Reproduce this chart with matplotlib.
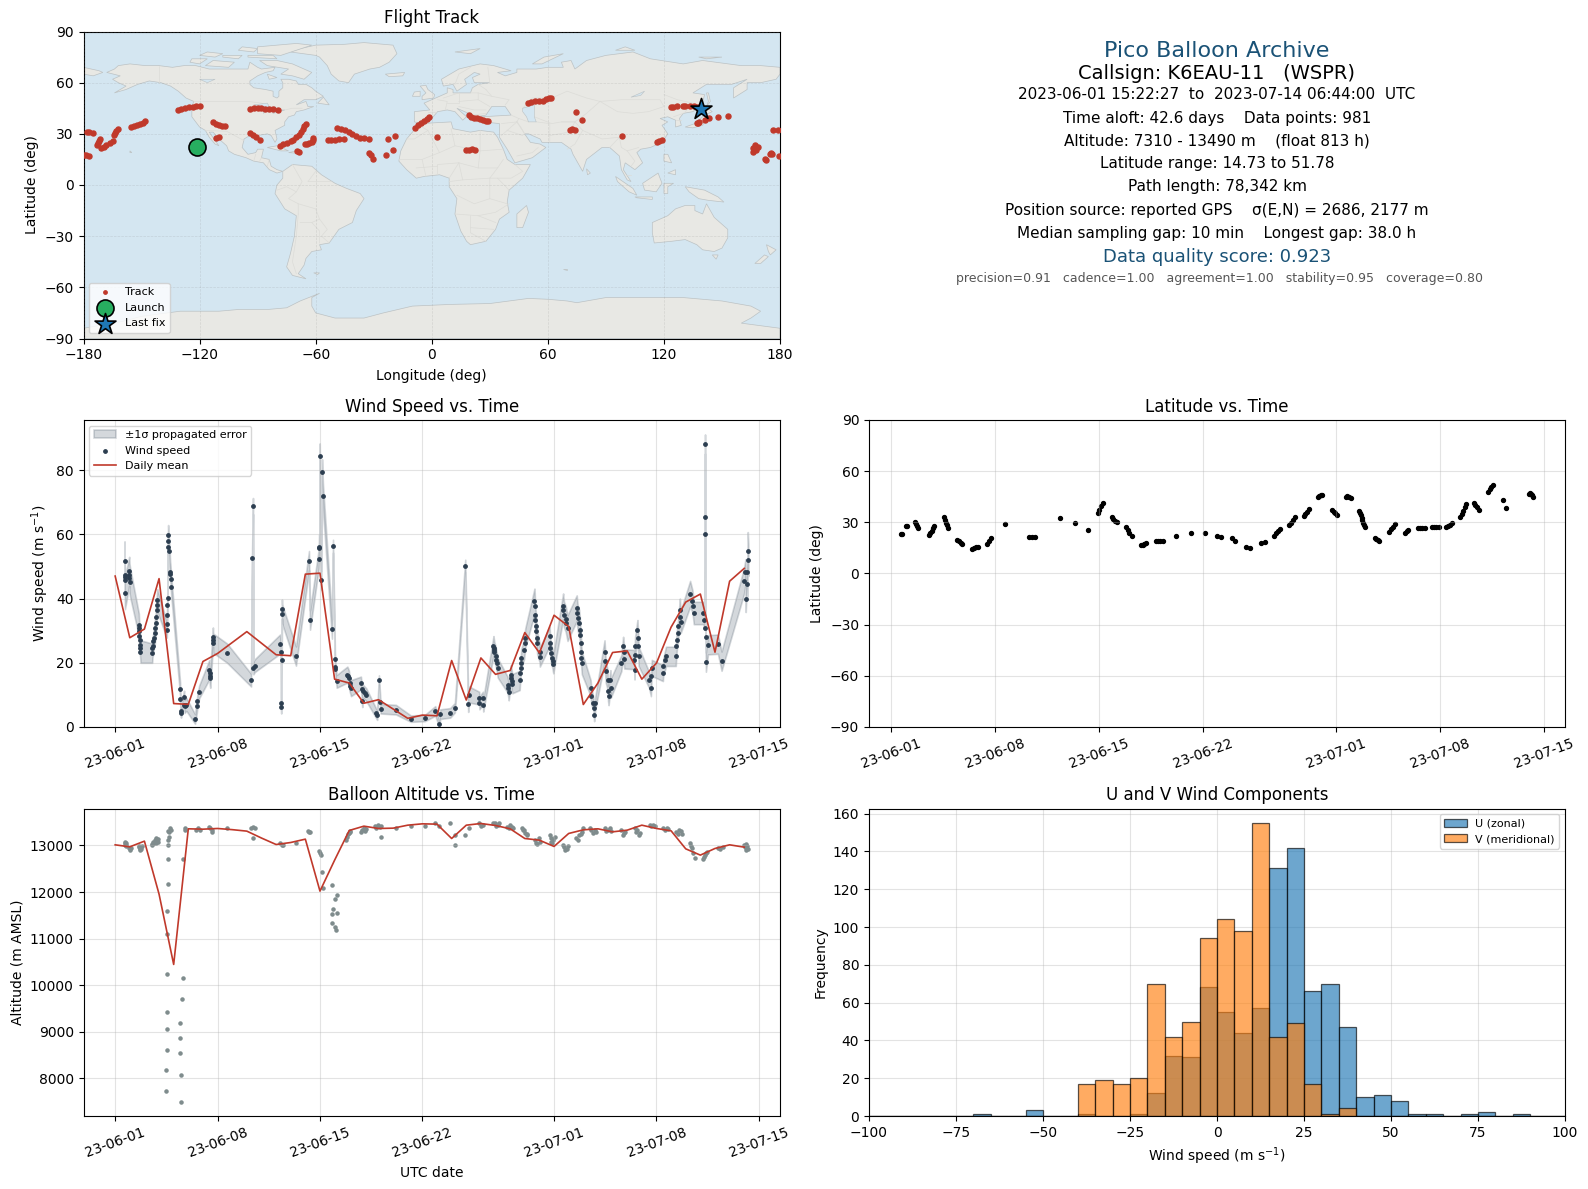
import datetime as dt

import numpy as np
import matplotlib
matplotlib.use("Agg")
import matplotlib.pyplot as plt
import matplotlib.dates as mdates
from matplotlib.patches import Polygon

# ===============================
# FLIGHT SUMMARY TEXT
# ===============================
HEADER = "Pico Balloon Archive"
CALLSIGN = "Callsign: K6EAU-11   (WSPR)"
SUMMARY_LINES = [
    "2023-06-01 15:22:27  to  2023-07-14 06:44:00  UTC",
    "Time aloft: 42.6 days    Data points: 981",
    "Altitude: 7310 - 13490 m    (float 813 h)",
    "Latitude range: 14.73 to 51.78",
    "Path length: 78,342 km",
    "Position source: reported GPS    σ(E,N) = 2686, 2177 m",
    "Median sampling gap: 10 min    Longest gap: 38.0 h",
]
SCORE = "Data quality score: 0.923"
SCORE_PARTS = "precision=0.91   cadence=1.00   agreement=1.00   stability=0.95   coverage=0.80"

# ===============================
# MAP OUTLINES (lon, lat)
# ===============================
LAND = [
    # North America
    [(-168,66),(-164,68),(-162,70),(-156,71),(-148,70),(-141,70),(-134,69),(-128,70),(-122,70),(-115,68),(-108,68),(-100,68),(-95,68),(-94,72),(-90,69),(-88,68),(-81,69),(-82,67),(-86,66),(-90,64),(-94,61),(-94,59),(-92,57),(-86,56),(-82,55),(-82,52),(-80,51),(-79,52),(-79,55),(-77,57),(-77,60),(-78,62),(-74,62),(-70,61),(-69,59),(-65,59),(-62,57),(-60,55),(-56,52),(-60,50),(-66,50),(-70,47),(-65,49),(-64,46),(-61,46),(-66,44),(-70,43),(-71,41),(-74,40),(-76,37),(-76,35),(-81,32),(-80,27),(-81,25),(-83,29),(-85,30),(-90,29),(-94,29),(-97,27),(-98,22),(-95,18),(-91,19),(-90,21),(-87,21),(-88,16),(-84,15),(-83,11),(-80,9),(-77,8),(-80,7),(-84,9),(-87,13),(-92,14),(-96,16),(-102,18),(-105,20),(-106,23),(-110,27),(-113,31),(-115,31),(-112,26),(-110,23),(-112,24),(-115,28),(-117,32),(-120,34),(-122,37),(-124,40),(-124,46),(-123,49),(-127,51),(-131,55),(-135,58),(-140,60),(-146,61),(-152,59),(-158,56),(-164,54),(-158,58),(-162,60),(-165,62),(-161,64)],
    # Greenland
    [(-73,78),(-68,80),(-60,82),(-45,82.5),(-35,83.5),(-20,82),(-18,77),(-22,72),(-27,69),(-32,68),(-40,65),(-43,60),(-48,61),(-52,65),(-54,70),(-58,75),(-60,76)],
    # Canadian islands
    [(-80,73),(-72,71),(-68,69),(-62,66),(-66,62),(-72,64),(-78,65),(-74,68),(-85,70),(-89,73)],
    [(-117,70),(-105,69),(-102,72),(-113,73)],
    [(-125,72),(-120,71),(-116,74),(-124,74)],
    [(-90,77),(-78,76),(-62,82),(-70,83),(-90,81)],
    [(-95,75),(-80,74),(-82,76),(-95,76)],
    [(-108,75),(-100,74),(-98,76),(-108,76)],
    [(-120,76),(-112,75),(-108,77),(-116,78)],
    [(-100,79),(-92,78),(-90,80),(-98,81)],
    [(-85,65),(-80,63),(-84,62)],
    [(-59,48),(-53,47),(-56,51.5)],
    # Caribbean
    [(-85,22),(-80,23),(-74,20),(-78,20)],
    [(-74,19),(-68,18.5),(-70,20)],
    # South America
    [(-77,8),(-72,12),(-62,11),(-57,6),(-50,1),(-44,-2),(-37,-5),(-35,-8),(-39,-15),(-41,-22),(-48,-26),(-53,-34),(-58,-35),(-57,-38),(-62,-39),(-65,-43),(-66,-47),(-69,-52),(-65,-55),(-72,-53),(-75,-48),(-73,-40),(-71,-30),(-70,-18),(-76,-14),(-81,-5),(-80,0),(-77,4)],
    # Africa
    [(-6,36),(10,37),(11,33),(20,31),(25,32),(32,31),(34,28),(37,21),(39,15),(43,12),(51,12),(47,4),(40,-3),(39,-10),(40,-16),(35,-20),(33,-26),(28,-33),(20,-35),(18,-33),(15,-27),(12,-17),(13,-8),(9,-1),(9,4),(4,6),(-4,5),(-8,4),(-13,9),(-17,14),(-16,20),(-13,27),(-10,31)],
    # Eurasia
    [(-9,37),(-9,43),(-1,44),(-4,48),(2,51),(8,54),(8,57),(11,56),(11,54),(20,54),(21,57),(24,59),(30,60),(22,60),(21,63),(25,65),(22,66),(17,62),(18,59),(13,55),(11,59),(6,58),(5,62),(14,68),(25,71),(32,70),(41,67),(34,66),(38,64),(44,66),(44,68),(54,68),(60,69),(68,69),(67,72),(72,73),(74,68),(80,73),(90,76),(104,78),(113,74),(130,71),(140,73),(160,70),(170,70),(180,69),(180,65),(178,62),(170,60),(163,60),(163,56),(156,51),(156,57),(163,62),(155,59),(142,59),(135,54),(141,53),(140,48),(135,43),(130,42),(128,39),(129,35),(126,34),(126,38),(122,40),(118,39),(122,37),(119,35),(122,30),(119,25),(113,22),(108,21),(106,19),(109,13),(105,9),(100,13),(99,9),(103,2),(101,3),(98,9),(97,17),(92,22),(88,22),(80,15),(78,8),(73,18),(72,21),(67,25),(57,25),(56,27),(50,30),(48,30),(51,25),(56,24),(59,22),(52,16),(43,13),(39,21),(35,28),(35,36),(27,37),(26,40),(41,41),(38,46),(31,46),(28,41),(23,40),(23,37),(19,42),(13,45),(18,40),(16,38),(12,43),(8,44),(3,43),(0,39),(-5,36)],
    # Chukotka past the date line
    [(-180,69),(-172,67),(-170,66),(-175,64),(-180,65)],
    # Antarctica
    [(-180,-84),(-160,-80),(-150,-77),(-130,-74),(-110,-74),(-100,-73),(-85,-73),(-75,-72),(-68,-68),(-58,-63.5),(-62,-66),(-62,-71),(-60,-75),(-50,-78),(-35,-78),(-25,-75),(-10,-71),(10,-70),(30,-69.5),(50,-66.5),(60,-67),(70,-68),(75,-69),(90,-66),(110,-66),(130,-66),(150,-68),(165,-71),(170,-74),(165,-78),(160,-81),(180,-84),(180,-90),(-180,-90)],
    # Oceania and Asia islands
    [(114,-22),(122,-18),(126,-14),(131,-12),(136,-12),(136,-15),(140,-17),(142,-11),(146,-19),(153,-26),(153,-31),(150,-37),(146,-39),(140,-38),(137,-35),(131,-32),(124,-33),(115,-34),(114,-28)],
    [(145,-41),(148,-41),(147,-43.5)],
    [(173,-35),(178,-38),(175,-41),(174,-39)],
    [(172,-41),(174,-42),(170,-46),(167,-46)],
    [(131,-1),(141,-3),(148,-7),(151,-10),(143,-9),(138,-8),(133,-4)],
    [(109,1),(117,7),(119,1),(116,-4),(110,-3)],
    [(95,5),(104,-2),(106,-6),(102,-4),(96,2)],
    [(105,-7),(114,-7),(114,-8.5),(106,-7.5)],
    [(120,1),(125,1),(122,-1),(122,-5),(120,-5)],
    [(120,18),(122,18),(124,13),(120,14)],
    [(122,7),(126,9),(126,6)],
    [(131,34),(136,36),(141,41),(142,39),(140,35),(135,33.5)],
    [(140,42),(142,45.5),(145,43),(143,42)],
    [(142,46),(143,49),(142,54),(143,54),(144,49)],
    [(80,9.5),(82,7),(80.5,6)],
    [(49,-12),(50,-16),(47,-25),(44,-25),(44,-17)],
    [(-5,50),(1,51),(1.5,53),(-2,56),(-3,58.5),(-6,58),(-3,54),(-5,52)],
    [(-10,52),(-6,52),(-6,55),(-9,54.5)],
    [(-24,65),(-14,66),(-15,64),(-22,63.5)],
    [(12,78),(25,80),(20,77)],
    [(52,71),(57,71),(68,77),(58,75)],
    [(95,79),(105,79),(100,81)],
    [(138,75),(150,75),(142,74)],
    [(68,-49),(70,-49),(70,-50)],
    [(-156,20),(-155,19),(-156,19)],
    [(-61,-51.5),(-58,-51.5),(-59,-52.5)],
]
LAKES = [
    [(47,45),(53,47),(53,40),(54,37),(50,37),(49,40),(47,43)],
    [(-92,47),(-85,48),(-84,46),(-87,45),(-87,42),(-85,44),(-81,46),(-80,44),(-76,44),(-82,42),(-83,45),(-88,46)],
    [(-120,62),(-112,62),(-116,60)],
    [(103,51.5),(110,55),(108,52.5)],
]
BORDERS = [
    [(-141,70),(-141,60)], [(-123,49),(-95,49),(-88,48),(-83,45),(-82,42),(-76,44),(-72,45),(-67,45)],
    [(-117,32),(-106,31.5),(-97,26)], [(-92,14),(-91,18)], [(-88,16),(-89,14)], [(-84,15),(-85,11)],
    [(-72,12),(-67,2),(-70,-4),(-74,-8),(-69,-11),(-69,-17)], [(-60,8),(-64,2),(-57,2),(-52,2)],
    [(-80,-3),(-75,-1),(-70,-4)], [(-69,-11),(-60,-14),(-58,-20),(-54,-26),(-57,-30),(-53,-34)],
    [(-69,-17),(-70,-30),(-72,-45),(-70,-52)], [(-62,-22),(-58,-20)], [(-68,-22),(-62,-22),(-58,-27),(-58,-34)],
    [(-8,36),(-2,32),(-9,27),(-13,27)], [(-2,32),(4,19),(12,23),(10,33)], [(-17,15),(-5,15),(4,19)],
    [(12,23),(25,20),(25,32)], [(25,20),(37,21)], [(25,20),(24,10),(34,10),(37,15)],
    [(14,13),(24,10)], [(3,6),(3,12),(14,13),(9,4)], [(-5,15),(-3,5)], [(-8,10),(3,11)],
    [(14,13),(16,3),(9,2)], [(16,3),(30,4),(34,10)], [(30,4),(41,4),(47,8),(43,12)],
    [(34,4),(40,-3)], [(30,4),(30,-8),(39,-11)], [(13,-6),(22,-11),(30,-8)], [(12,-17),(24,-18),(33,-16),(40,-11)],
    [(20,-18),(20,-28),(28,-33)], [(20,-25),(32,-26)], [(24,-18),(33,-22)],
    [(2,43),(-2,43)], [(3,50),(8,49),(7,44)], [(6,51),(14,54)], [(14,54),(14,48),(8,48)], [(14,49),(24,50),(24,54),(20,54)],
    [(24,50),(30,46)], [(24,54),(31,52),(40,50),(38,47)], [(14,46),(22,44),(28,44)], [(21,41),(28,42)],
    [(28,56),(31,52)], [(24,59),(28,56)], [(30,60),(29,69)], [(20,69),(14,65),(12,59)],
    [(41,41),(45,39),(44,37),(36,36)], [(44,37),(48,30)], [(39,32),(47,29)], [(45,39),(50,37)],
    [(44,37),(46,34),(48,30)], [(36,29),(39,32),(44,37)], [(44,17),(52,19),(55,22)],
    [(47,45),(52,51),(62,51),(70,55),(80,51),(87,49)], [(53,40),(62,36),(67,37),(74,37),(80,42),(87,49)],
    [(54,37),(61,36),(61,25)], [(67,37),(74,37),(71,31),(61,29)], [(74,37),(78,32),(74,24),(70,21)],
    [(78,32),(88,27),(97,28),(92,22)], [(97,28),(98,22),(101,20),(107,22)], [(101,20),(105,14),(103,11)],
    [(87,49),(98,50),(107,50),(118,50),(120,46),(112,43),(104,42),(96,43),(87,49)], [(120,53),(127,50),(135,48),(131,43)],
    [(125,40),(130,42)], [(126,38),(129,38)], [(103,6),(101,6)],
]

# ===============================
# TRACK (lon, lat)
# ===============================
TRACK_LON = [
    -179.7,-178.5,-177.0, -178.3,-177.0,-175.2, -173.1,-172.6,-172.2,-171.7, -171.0,-169.5,-168.2,-166.5,-164.9,
    -164.0,-163.6,-163.0,-162.4, -155.6,-154.0,-152.5,-151.0,-149.5,-148.2,
    -131.4,-129.5,-127.5,-125.5,-123.5,-122.0,-120.0, -113.0,-111.5,-110.0,-108.5,-106.7, -111.5,-110.2,
    -94.1,-92.0,-90.0,-88.0,-86.0,-84.0,-82.0,-79.7, -94.0,-92.5,-91.0,-89.0,
    -78.6,-77.0,-75.0,-73.0,-71.5,-70.0,-68.5,-67.5,-66.5,-65.8,-65.0, -69.9,-68.8,
    -65.7,-64.5,-63.2,-62.0,-61.4,-61.6, -53.6,-52.0,-50.0,-48.0,-45.5,
    -49.0,-47.0,-45.0,-43.0,-41.0,-39.0,-37.0,-35.0,-32.6, -32.5,-31.5,-30.3, -23.7,-20.2, -22.8,-19.0,
    -8.7,-7.0,-5.5,-4.0,-2.5,-1.2, 2.6, 19.5,20.5,22.0,23.5,25.0,26.5,28.0,29.0, 17.8,19.5,21.0,22.6,
    49.7,51.5,53.5,55.5,57.5,59.0,60.5,61.7, 74.5,77.6, 71.2,72.5,73.8, 98.1, 116.4,117.7,119.1,
    123.8,124.8,126.7, 129.8,131.0,133.5,135.5,137.0,138.4, 137.0,137.5,138.0, 141.2,143.3,147.9,153.1,
    176.4,179.0, 166.3,166.0,167.2,168.6,167.8, 174.7,175.4,176.0, 172.4,172.6, 179.5,
]
TRACK_LAT = [
    17.8,17.5,17.0, 30.9,30.8,30.5, 23.2,24.5,26.0,27.2, 21.8,22.3,23.2,24.5,25.7,
    29.1,30.5,31.8,33.0, 34.0,34.6,35.3,35.9,36.6,37.3,
    44.2,44.7,45.2,45.6,45.9,46.1,46.1, 37.2,36.0,35.2,34.6,34.4, 27.8,28.2,
    44.8,45.0,45.0,45.0,44.8,44.6,44.4,44.2, 30.2,29.4,28.2,26.6,
    23.0,23.8,24.6,25.6,26.6,28.0,29.5,31.2,33.0,34.5,36.0, 20.0,19.4,
    23.9,24.2,24.6,25.5,27.8,26.5, 26.2,26.4,26.3,26.8,27.0,
    33.6,33.0,32.0,31.0,30.0,28.9,27.8,27.3,26.9, 19.0,17.4,15.0, 17.4,20.5, 27.2,28.6,
    33.6,35.0,36.2,37.5,38.8,39.8, 28.3, 40.8,40.0,39.4,39.0,38.6,38.2,37.8,37.5, 20.7,20.8,20.9,20.7,
    48.0,48.6,49.0,49.2,49.5,50.4,51.1,51.1, 43.0,38.2, 32.4,32.6,32.4, 28.9, 25.2,25.7,26.1,
    45.9,46.0,46.4, 46.4,46.4,46.4,46.2,46.0,46.0, 36.3,36.6,36.9, 38.2,39.4,40.0,40.6,
    32.4,32.0, 19.3,21.8,23.2,22.0,20.4, 18.3,18.6,18.3, 15.2,14.7, 17.1,
]
LAUNCH = (-121.4, 22.4)
LAST_FIX = (139.0, 44.7)

# ===============================
# WIND SPEED (days after 2023-06-01)
# ===============================
WIND_DAY = [
    0.64,0.64,0.65,0.66,0.67, 0.96,0.97,0.98,1.02,
    1.62,1.63,1.64,1.66,1.68,1.70,1.72,1.73,
    2.53,2.55,2.58,2.62,2.65,2.71,2.74,2.78,2.80,2.84,2.86,2.88,
    3.53,3.54,3.55,3.57,3.58, 3.60,3.61,3.62,3.69, 3.76,3.78,3.80,3.84,
    4.44,4.45,4.48,4.50, 4.71,4.73,4.75,4.87, 5.46, 5.58,5.62,5.74,
    6.43,6.46,6.48,6.50, 6.68,6.69,6.70, 7.65,
    9.29,9.36,9.42,9.45,9.54, 11.27,11.33,11.34,11.35,11.38,11.40,11.41, 12.36,
    13.25,13.32, 13.91,13.94,13.96,13.98,14.09,14.14,14.20,
    14.82,14.89, 15.02,15.04,15.06,15.14,
    15.87,15.92,15.97,16.02,16.07,16.12, 16.80,16.84,16.89,16.95,17.05,17.16,
    17.82,17.91,18.03,18.12,18.14, 19.19, 20.21, 21.17,
    21.88,22.15,22.22,22.90,23.22,23.93,24.13,24.20,
    24.88,24.90,25.14,25.16, 25.86,25.88,25.90,25.92, 26.00,26.05,26.10,26.15,
    26.82,26.86,26.90, 27.05,27.09,27.12,27.15,
    27.65,27.68,27.71,27.74,27.77, 27.95,28.00,28.03,
    28.66,28.68,28.70,28.72, 28.76,28.79,28.82,28.85, 29.01,29.03,
    29.70,29.72,29.75,29.78, 29.88,29.92,29.95,
    30.62,30.64,30.68, 30.80,30.85,30.92,
    31.55,31.58,31.62, 31.72,31.76,31.78, 31.82,31.85,31.87,31.90,
    32.50,32.55, 32.68,32.71,32.74,32.82,
    33.45,33.49,33.53, 33.66,33.69,33.73, 33.85,33.88,
    34.60,34.72,34.76,34.80, 35.48,35.50,35.52,35.54, 35.70,35.73,35.76,35.78,
    36.49,36.62,36.65,36.68, 37.44,37.47, 37.60,37.65,
    38.32,38.36,38.40, 38.46,38.50, 38.60,38.63,38.66,
    39.30,39.46,39.50,39.55, 40.20,40.27,40.30,40.31,40.32,40.35,40.36,40.38,40.52,
    41.20,41.45, 42.98,43.08,43.10,43.18,43.20,43.24,43.28,
]
WIND_SPEED = [
    51.7,47.2,46.6,45.9,41.7, 48.5,47.4,46.4,45.1,
    31.8,30.8,29.8,28.2,27.2,25.6,24.6,23.5,
    23.0,24.6,25.3,26.7,27.7,29.3,30.8,32.4,34.4,36.5,38.1,39.4,
    30.3,32.2,35.0,38.1,40.1, 56.2,57.8,59.9,54.8, 48.4,47.7,46.1,43.6,
    11.8,8.7,4.9,4.4, 9.3,7.0,6.4,7.0, 2.5, 6.4,8.0,10.9,
    17.8,16.8,15.8,15.2, 28.0,27.2,26.1, 23.0,
    14.6,52.6,68.8,18.4,19.1, 25.8,23.2,7.5,6.2,21.0,36.7,35.2, 22.1,
    51.8,33.3, 52.3,56.0,55.7,84.3,45.7,79.4,71.9,
    30.5,56.3, 21.2,18.7,18.0,14.2,
    16.3,15.8,15.2,13.7,12.9,12.1, 13.7,11.8,8.2,11.1,10.6,10.1,
    4.4,3.7,14.6,7.7,5.7, 5.4, 2.6, 2.8,
    5.0,1.0,4.0,4.4,6.0,50.1,7.2,10.1,
    9.0,7.5,9.0,6.8, 25.3,24.6,24.1,23.5, 22.2,21.0,19.9,18.4,
    13.2,12.1,10.8, 16.3,15.2,14.2,13.5,
    14.5,16.8,18.4,19.9,21.5, 24.1,26.1,27.7,
    39.1,37.6,35.0,33.4, 31.3,29.8,27.7,26.1, 23.2,21.8,
    28.2,26.1,24.6,23.0, 21.5,20.4,19.7,
    37.6,36.5,35.0, 33.6,32.4,30.8,
    37.0,35.5,33.9, 32.4,30.3,28.7, 26.1,23.5,21.5,19.9,
    12.1,9.5, 7.5,5.9,3.8,7.5,
    23.5,20.4,17.3, 14.7,11.1,9.8, 14.7,12.1,
    19.9,25.1,23.5,21.2, 21.0,17.8,22.5,25.1, 30.3,27.7,25.1,22.0,
    14.7,12.1,15.8,18.4, 16.8,18.9, 21.0,22.0,
    22.0,25.1,27.2, 29.3,31.3, 36.5,34.4,32.8,
    41.5,39.1,37.6,35.5, 35.5,33.3,65.4,60.1,88.1,30.8,28.0,20.2,25.6,
    25.8,20.5, 45.4,48.2,39.8,48.2,44.5,54.7,52.1,
]
WIND_SIGMA = [
    6.0,6.0,5.0,5.0,5.0, 4.5,4.5,4.5,4.5,
    3.5,3.5,3.5,3.5,3.5,3.5,3.5,3.5,
    3.0,3.0,3.0,3.0,3.0,3.5,3.5,3.5,3.5,3.5,3.5,3.5,
    2.5,2.5,2.5,2.5,2.5, 3.0,3.0,3.0,3.0, 3.0,3.0,3.0,3.0,
    2.0,2.0,1.5,1.5, 2.0,2.0,2.0,2.0, 1.5, 2.0,2.0,2.0,
    3.0,3.0,3.0,3.0, 3.0,3.0,3.0, 3.0,
    2.0,2.5,2.5,2.0,2.0, 3.0,2.0,2.0,2.0,2.0,3.0,3.0, 3.0,
    3.0,3.0, 3.0,4.0,4.0,4.0,3.0,4.0,4.0,
    3.0,2.0, 2.5,2.0,2.0,2.0,
    2.5,2.5,2.5,2.5,2.5,2.5, 2.0,2.0,2.0,2.0,2.0,2.0,
    1.5,1.5,1.5,1.5,1.5, 1.5, 1.0, 1.0,
    1.5,1.0,1.5,1.5,1.5,2.0,2.5,2.5,
    2.0,2.0,2.0,2.0, 3.0,3.0,3.0,3.0, 3.0,3.0,3.0,3.0,
    2.5,2.5,2.5, 3.0,3.0,3.0,3.0,
    3.0,3.0,3.0,3.0,3.0, 3.0,3.0,3.0,
    4.0,4.0,4.0,4.0, 4.0,3.5,3.5,3.5, 3.0,3.0,
    3.0,3.0,3.0,3.0, 3.0,3.0,3.0,
    4.0,4.0,4.0, 4.0,4.0,4.0,
    4.0,4.0,4.0, 4.0,4.0,4.0, 3.5,3.5,3.5,3.5,
    2.5,2.5, 2.0,2.0,2.0,2.0,
    3.5,3.5,3.5, 3.0,3.0,3.0, 3.0,3.0,
    2.5,3.0,3.0,3.0, 3.0,3.0,3.0,3.0, 3.0,3.0,3.0,3.0,
    2.5,2.5,2.5,2.5, 2.5,2.5, 3.0,3.0,
    3.0,3.0,3.0, 3.0,3.0, 3.5,3.5,3.5,
    4.0,3.5,3.5,3.5, 3.5,3.0,3.0,3.0,3.0,3.0,3.0,3.0,3.0,
    3.0,3.0, 4.0,4.0,4.0,4.0,4.0,6.0,5.0,
]

DAILY_DAY = list(range(44))
DAILY_WIND = [
    47.0,27.8,30.5,46.2,7.3,7.05,20.4,22.9,26.3,29.7,26.1,22.5,22.2,47.6,47.9,14.9,13.7,7.4,8.5,5.6,2.7,3.7,
    3.5,20.7,8.4,21.5,16.4,17.6,29.4,23.1,34.8,31.3,7.0,13.7,23.2,23.7,14.9,19.9,31.1,38.9,41.4,23.3,45.4,49.4,
]
DAILY_ALT = [
    13014,12971,13093,11956,10446,13358,13350,13365,13340,13308,13160,13021,13064,13136,12020,12685,13322,13415,13365,13372,13436,13465,
    13458,13150,13436,13472,13429,13358,13150,13114,12979,13258,13336,13358,13293,13329,13436,13365,13315,12928,12793,12936,13014,12964,
]

# ===============================
# LATITUDE
# ===============================
LAT_DAY = [
    0.64,0.72,1.02,1.05, 1.62,1.67,1.73,1.80, 2.55,2.63,2.72,2.82,2.91, 3.54,3.60,3.67,3.74,3.84,
    4.44,4.56,4.68,4.80, 5.47,5.60,5.72,5.83, 6.46,6.60,6.76, 7.66,
    9.30,9.48,9.67, 11.38, 12.37, 13.27, 13.93,14.02,14.14,14.30, 14.86,14.98,15.10,15.20,
    15.83,15.93,16.05,16.20, 16.82,16.94,17.06,17.18, 17.84,18.00,18.15,18.30, 19.20, 20.18, 21.17,
    21.98,22.20, 22.94,23.18, 23.90,24.17, 24.90,25.17,
    25.83,25.95,26.08,26.20, 26.80,26.93,27.06,27.20, 27.80,27.92,28.03,28.14, 28.74,28.85,28.95,29.04,
    29.73,29.83,29.93,30.03, 30.63,30.75,30.87,30.99,
    31.53,31.59,31.65,31.71,31.76,31.82,31.87,31.92, 32.58,32.68,32.78,32.88,
    33.54,33.67,33.80,33.93, 34.65,34.74,34.83, 35.50,35.65,35.80,35.95, 36.46,36.60,36.75,36.90,
    37.40,37.53,37.65,37.77, 38.35,38.44,38.54,38.64,38.74, 39.25,39.38,39.51,39.64,
    40.24,40.34,40.44,40.54, 41.23, 41.44, 43.00,43.08,43.15,43.22,43.28,
]
LAT_VALUE = [
    22.9,23.4,28.0,27.8, 30.4,29.2,28.0,26.5, 22.5,23.8,25.2,26.6,27.8, 33.3,31.5,29.8,28.2,26.5,
    19.6,18.8,18.0,17.3, 14.5,14.9,15.3,15.7, 17.3,19.0,21.0, 28.8,
    21.2,21.2,21.2, 32.7, 29.4, 25.5, 35.7,37.4,39.3,41.2, 32.9,31.8,30.9,30.0,
    27.0,25.4,23.8,22.2, 16.7,16.9,17.2,17.6, 18.8,18.8,18.8,18.8, 22.2, 23.5, 23.5,
    22.2,21.6, 20.6,19.2, 15.3,14.7, 17.6,18.2,
    22.2,23.6,25.0,26.3, 28.4,29.9,31.4,32.9, 33.7,35.0,36.3,37.6, 44.7,45.6,46.0,46.0,
    37.3,36.3,35.3,34.3, 45.0,45.3,44.8,44.0,
    36.9,35.5,34.1,32.7,31.3,29.9,28.4,27.0, 20.6,20.1,19.6,19.2,
    24.5,25.9,27.4,28.8, 23.9,24.7,25.5, 26.5,26.6,26.8,26.9, 27.0,27.0,27.0,27.0,
    27.0,27.6,28.4,29.4, 33.3,35.1,36.9,38.8,40.6, 41.6,40.1,38.7,37.3,
    48.0,49.5,51.0,51.8, 43.1, 38.6, 46.7,47.1,46.8,45.8,44.7,
]

# ===============================
# ALTITUDE POINTS
# ===============================
ALT_DAY = [
    0.64,0.66,0.68,0.71,0.74,0.77, 0.98,1.02,1.05,
    1.60,1.64,1.68,1.72,1.76,1.80,1.82, 2.50,2.54,2.60,2.64,2.70,2.76,2.82,2.86,2.90,2.94,
    3.48,3.48,3.55,3.55,3.55,3.55,3.55,3.55, 3.60,3.62,3.62,3.64,3.66,3.70,3.76,3.85,3.62,
    4.44,4.44,4.44,4.50,4.50,4.58,4.64,4.64,4.76,4.80, 5.55,5.67,5.80, 6.40,6.46,6.60,6.65,
    7.65, 9.31,9.40,9.54,9.42, 11.25,11.38,11.45, 12.38, 13.20,13.25,13.30,
    13.91,14.00,14.07,14.14,14.20, 14.82,14.89,14.82,14.82,15.00,15.02,15.10,15.16,15.16,
    15.80,15.87,15.92,15.98,16.03,16.07,
    16.82,16.90,16.98,17.06,17.16, 17.73,17.85,17.98,18.08,18.19,18.16, 19.20, 20.24, 21.17,
    21.88,22.15,22.90,23.22,23.22,23.93,24.20,
    24.90,25.00,25.16, 25.83,25.95,26.05,26.15,26.24, 26.80,26.90,27.00,27.10,27.20,
    27.80,27.88,27.96,28.04,28.12,28.16, 28.70,28.78,28.86,28.95,29.03,
    29.70,29.76,29.82,29.88,29.94,30.05, 30.62,30.70,30.78,30.86,30.96,
    31.53,31.62,31.72,31.82,31.90,31.98, 32.44,32.55,32.66,32.78,32.90,
    33.46,33.58,33.70,33.80,33.92, 34.60,34.68,34.76,34.83, 35.50,35.60,35.70,35.78,35.85,
    36.53,36.65,36.76,36.88, 37.45,37.58,37.70,37.80, 38.36,38.46,38.56,38.66,38.77,
    39.27,39.36,39.44,39.52,39.60, 40.18,40.25,40.32,40.40,40.45, 41.20,41.35,41.54,
    42.98,43.05,43.10,43.15,43.22,43.28,
]
ALT_M = [
    13079,13043,13007,13060,13020,12990, 12936,12900,12950,
    12986,12957,12928,12900,12960,12930,12980, 13007,13040,13079,13043,13114,13057,13150,13114,13079,13130,
    7720,8171,8601,9052,9416,10232,11090,11584, 12163,12700,13021,13114,13186,13293,13365,13340,13321,
    8536,8858,9180,8064,7492,9695,12700,10146,13365,13340, 13343,13365,13340, 13400,13365,13329,13293,
    13365, 13365,13400,13365,13150, 13043,13007,13020, 13043, 13308,13279,13300,
    12878,12830,12792,12421,12077, 12149,11627,11519,11326,11841,11240,11176,11927,11541,
    13114,13186,13240,13258,13293,13320,
    13293,13343,13379,13320,13360, 13415,13386,13440,13400,13420,13172, 13365, 13415, 13415,
    13490,13422,13490,13222,13000,13222,13365,
    13472,13415,13440, 13490,13472,13415,13450,13480, 13400,13365,13436,13400,13365,
    13379,13340,13329,13272,13222,13250, 13114,13057,13029,13150,13070,
    13222,13150,13079,13043,13110,13180, 13007,12957,12900,12930,12980,
    13150,13120,13222,13240,13293,13365, 13386,13329,13272,13340,13300,
    13386,13315,13340,13370,13315, 13329,13222,13260,13300, 13386,13293,13340,13222,13260,
    13436,13415,13450,13420, 13386,13343,13370,13350, 13293,13240,13343,13320,13243,
    13043,12980,12936,12828,12722, 12700,12760,12793,12830,12864, 12936,12914,12960,
    13007,12957,12900,13030,12980,12930,
]

# ===============================
# HISTOGRAM (5 m/s bins)
# ===============================
BIN_LEFT = list(range(-100, 100, 5))
U_COUNTS = [
    0,0,0,0,0,0,1,0,0,3,0,0,1,0,0,1,12,32,31,68,
    55,44,57,131,142,66,70,47,10,11,8,1,1,0,1,2,0,1,0,0,
]
V_COUNTS = [
    0,0,0,0,0,0,0,0,0,0,0,0,17,19,17,20,70,42,50,94,
    104,98,155,42,49,17,1,4,0,0,0,0,0,0,0,0,0,0,0,0,
]

# ===============================
# COLORS
# ===============================
RED = "#c0392b"
NAVY = "#2c3e50"
GRAY = "#7f8c8d"
TITLE_BLUE = "#1a5276"
SEA = "#d4e6f1"
LAND_COLOR = "#e8e8e4"
DATE0 = dt.datetime(2023, 6, 1)


def to_dates(days):
    return mdates.date2num([DATE0 + dt.timedelta(days=float(d)) for d in days])


def format_time_axis(ax):
    ax.xaxis.set_major_locator(mdates.DayLocator(bymonthday=[1, 8, 15, 22]))
    ax.xaxis.set_major_formatter(mdates.DateFormatter("%y-%m-%d"))
    ax.tick_params(axis="x", labelrotation=20)
    ax.grid(True, alpha=0.35)


def main():
    assert len(WIND_DAY) == len(WIND_SPEED) == len(WIND_SIGMA)
    assert len(LAT_DAY) == len(LAT_VALUE)
    assert len(ALT_DAY) == len(ALT_M)
    assert len(TRACK_LON) == len(TRACK_LAT)

    W, H = 1588, 1189
    fig = plt.figure(figsize=(W / 100, H / 100), dpi=100)

    def add_axes(x0, x1, y0, y1):
        return fig.add_axes([x0 / W, 1 - y1 / H, (x1 - x0) / W, (y1 - y0) / H])

    col1 = (83.5, 780)
    col2 = (869, 1565)

    # flight track map
    ax = add_axes(*col1, 31.5, 338.5)
    ax.set_facecolor(SEA)
    for outline in LAND:
        ax.add_patch(Polygon(outline, closed=True, facecolor=LAND_COLOR, edgecolor="#bcc2c4", lw=0.5, zorder=1))
    for outline in LAKES:
        ax.add_patch(Polygon(outline, closed=True, facecolor=SEA, edgecolor="#bcc2c4", lw=0.4, zorder=1.2))
    for line in BORDERS:
        xy = np.array(line)
        ax.plot(xy[:, 0], xy[:, 1], color="#dcdcd8", lw=0.5, zorder=1.1)
    ax.scatter(TRACK_LON, TRACK_LAT, s=13, color=RED, zorder=3, label="Track")
    ax.scatter(*LAUNCH, s=150, color="#27ae60", edgecolors="black", lw=1.2, zorder=4, label="Launch")
    ax.scatter(*LAST_FIX, s=250, marker="*", color="#1f77b4", edgecolors="black", lw=1.2, zorder=4, label="Last fix")
    ax.set_xlim(-180, 180)
    ax.set_ylim(-90, 90)
    ax.set_xticks(range(-180, 181, 60))
    ax.set_yticks(range(-90, 91, 30))
    ax.grid(True, color="gray", ls="--", lw=0.5, alpha=0.2)
    ax.set_axisbelow(False)
    ax.set_title("Flight Track")
    ax.set_xlabel("Longitude (deg)", labelpad=5)
    ax.set_ylabel("Latitude (deg)")
    leg = ax.legend(loc="lower left", fontsize=8, framealpha=0.8)
    leg.legend_handles[0].set_sizes([6])

    # summary panel
    ax = add_axes(*col2, 31.5, 338.5)
    ax.axis("off")
    ax.text(0.5, 0.936, HEADER, fontsize=16, color=TITLE_BLUE, ha="center", va="center", transform=ax.transAxes)
    ax.text(0.5, 0.8635, CALLSIGN, fontsize=14, ha="center", va="center", transform=ax.transAxes)
    for y, line in zip([0.794, 0.718, 0.6425, 0.57, 0.494, 0.418, 0.342], SUMMARY_LINES):
        ax.text(0.5, y, line, fontsize=11, ha="center", va="center", transform=ax.transAxes)
    ax.text(0.5, 0.264, SCORE, fontsize=13, color=TITLE_BLUE, ha="center", va="center", transform=ax.transAxes)
    ax.text(0.504, 0.197, SCORE_PARTS, fontsize=9, color="#555555", ha="center", va="center", transform=ax.transAxes)

    # wind speed
    order = np.argsort(WIND_DAY, kind="stable")
    wind_t = to_dates(np.array(WIND_DAY)[order])
    speed = np.array(WIND_SPEED)[order]
    sigma = np.array(WIND_SIGMA)[order]
    ax = add_axes(*col1, 420, 727)
    ax.fill_between(wind_t, speed - sigma, speed + sigma, facecolor=NAVY, edgecolor=NAVY, alpha=0.2, lw=1.2, label="±1σ propagated error")
    ax.scatter(wind_t, speed, s=6, color=NAVY, zorder=3, label="Wind speed")
    ax.plot(to_dates(DAILY_DAY), DAILY_WIND, color=RED, lw=1.2, zorder=4, label="Daily mean")
    ax.set_ylim(0, 95.6)
    ax.set_title("Wind Speed vs. Time")
    ax.set_ylabel("Wind speed (m s$^{-1}$)")
    format_time_axis(ax)
    ax.legend(loc="upper left", fontsize=8)

    # latitude
    ax = add_axes(*col2, 420, 727)
    ax.scatter(to_dates(LAT_DAY), LAT_VALUE, s=8, color="black")
    ax.set_ylim(-90, 90)
    ax.set_yticks(range(-90, 91, 30))
    ax.set_title("Latitude vs. Time")
    ax.set_ylabel("Latitude (deg)")
    format_time_axis(ax)

    # altitude
    ax = add_axes(*col1, 808.5, 1116)
    ax.scatter(to_dates(ALT_DAY), ALT_M, s=5, color=GRAY)
    ax.plot(to_dates(DAILY_DAY), DAILY_ALT, color=RED, lw=1.2, zorder=4)
    ax.set_ylim(7192, 13794)
    ax.set_title("Balloon Altitude vs. Time")
    ax.set_xlabel("UTC date")
    ax.set_ylabel("Altitude (m AMSL)")
    format_time_axis(ax)

    # U and V histogram
    ax = add_axes(*col2, 808.5, 1116)
    ax.bar(BIN_LEFT, U_COUNTS, width=5, align="edge", color="#1f77b4", alpha=0.65, edgecolor="black", lw=0.9, label="U (zonal)")
    ax.bar(BIN_LEFT, V_COUNTS, width=5, align="edge", color="#ff7f0e", alpha=0.65, edgecolor="black", lw=0.9, label="V (meridional)")
    ax.set_xlim(-100, 100)
    ax.set_ylim(0, 162.7)
    ax.set_title("U and V Wind Components")
    ax.set_xlabel("Wind speed (m s$^{-1}$)")
    ax.set_ylabel("Frequency")
    ax.grid(True, alpha=0.35)
    ax.set_axisbelow(True)
    ax.legend(loc="upper right", fontsize=8)

    fig.savefig("out.png", dpi=100)


if __name__ == "__main__":
    main()
